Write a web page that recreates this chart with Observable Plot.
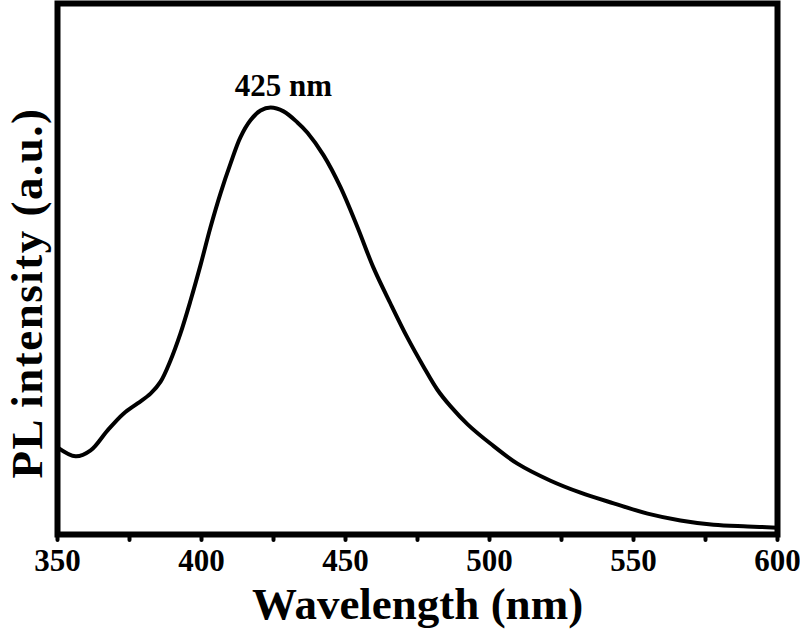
<!DOCTYPE html>
<html>
<head>
<meta charset="utf-8">
<script src="https://cdn.jsdelivr.net/npm/d3@7"></script>
<script src="https://cdn.jsdelivr.net/npm/@observablehq/plot@0.6"></script>
<style>
  html, body { margin: 0; padding: 0; background: #fff; }
</style>
</head>
<body>
<div id="chart"></div>
<script>
// PL spectrum (arbitrary units, peak = 1)
const wavelength = [350, 356.3, 361.5, 367.4, 372.9, 377.8, 382.3, 385.8, 389.2, 392.7, 396.2, 399.7,
  403.1, 406.6, 410.1, 413.5, 417.0, 420.5, 424.0, 428.5, 433.3, 436.8, 442.4, 448.3, 454.2,
  459.7, 465.6, 471.5, 477.1, 481.9, 486.5, 492.4, 500.3, 509.7, 521.2, 531.6, 543.1, 554.9,
  566.3, 577.8, 589.6, 600];
const intensity = [0.204, 0.183, 0.197, 0.244, 0.283, 0.307, 0.330, 0.358, 0.407, 0.471, 0.548, 0.632,
  0.719, 0.799, 0.869, 0.930, 0.970, 0.993, 1.000, 0.991, 0.965, 0.941, 0.888, 0.813, 0.719,
  0.625, 0.541, 0.461, 0.393, 0.339, 0.300, 0.258, 0.213, 0.166, 0.126, 0.098, 0.073, 0.049,
  0.033, 0.023, 0.019, 0.016];
const majorTicks = [350, 400, 450, 500, 550, 600];
const minorTicks = [350, 375, 400, 425, 450, 475, 500, 525, 550, 575, 600];
const peakLabel = [{x: 425, y: 1.0, text: "425 nm"}];
const xLabel = "Wavelength (nm)";
const yLabel = "PL intensity (a.u.)";

const data = wavelength.map((w, i) => ({w, v: intensity[i]}));
const font = "'Liberation Serif', 'Times New Roman', serif";

const chart = Plot.plot({
  width: 800,
  height: 629,
  marginLeft: 57,
  marginRight: 23,
  marginTop: 3,
  marginBottom: 95,
  style: {fontFamily: font, fontWeight: "bold", color: "#000", background: "#fff"},
  x: {domain: [350, 600]},
  y: {domain: [0, 1.2436]},
  marks: [
    Plot.line(data, {x: "w", y: "v", stroke: "#000", strokeWidth: 4, curve: "catmull-rom", clip: true}),
    Plot.axisX({ticks: minorTicks, tickSize: 6, strokeWidth: 4, strokeLinecap: "round", text: null, label: null}),
    Plot.axisX({ticks: majorTicks, tickSize: 0, tickPadding: 14, fontSize: 31, fontWeight: "bold", fill: "#000", label: null, tickFormat: d => String(d)}),
    Plot.axisY({ticks: [], label: null}),
    Plot.frame({stroke: "#000", strokeWidth: 6}),
    Plot.text(peakLabel, {x: "x", y: "y", text: "text", dx: 10, dy: -12, lineAnchor: "bottom", fontSize: 31, fontWeight: "bold", fill: "#000"}),
    Plot.text([xLabel], {frameAnchor: "bottom", textAnchor: "middle", lineAnchor: "bottom", dy: 84, fontSize: 45, fontWeight: "bold", fill: "#000"}),
    Plot.text([yLabel], {frameAnchor: "left", textAnchor: "middle", lineAnchor: "bottom", rotate: -90, dx: -16, dy: 24, fontSize: 45, fontWeight: "bold", fill: "#000"})
  ]
});
d3.select(chart).selectAll("text").filter(function() { return this.textContent === yLabel; })
  .attr("letter-spacing", "1.5px");
document.getElementById("chart").appendChild(chart);
</script>
</body>
</html>
